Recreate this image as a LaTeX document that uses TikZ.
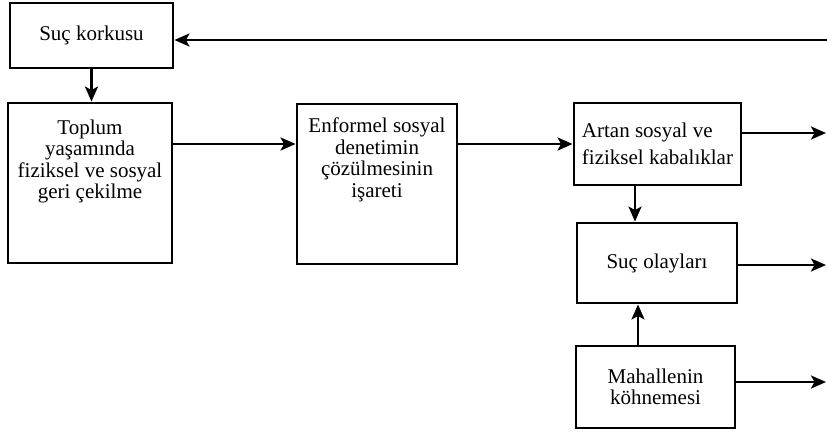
\documentclass[tikz,border=0pt]{standalone}
\usepackage{fontspec}
\setmainfont{Liberation Serif}
\usetikzlibrary{arrows.meta}
\tikzset{
    kutu/.style={draw, line width=2.9pt, inner sep=0pt, align=center, font=\fontsize{21}{21.5}\selectfont},
    yazi/.style={inner sep=0pt, align=center, font=\fontsize{21}{21.5}\selectfont},
    ok/.style={line width=2.6pt, -{Stealth[length=15pt, width=13pt, inset=3.5pt]}}
}
\begin{document}
\begin{tikzpicture}[x=1pt, y=-1pt]
        \useasboundingbox (0, 0) rectangle (827, 432);
        % kutular
        \node [kutu, minimum width=163, minimum height=65] (korku) at (91.5, 35.5) {Suç korkusu};
        \node [kutu, minimum width=164, minimum height=160] (toplum) at (90, 183) {};
        \node [yazi, below] (toplumyazi) at ([yshift=-18pt]toplum.north) {Toplum\\yaşamında\\fiziksel ve sosyal\\geri çekilme};
        \node [kutu, minimum width=160, minimum height=160] (enformel) at (377, 184) {};
        \node [yazi, below] (enformelyazi) at ([yshift=-15pt]enformel.north) {Enformel sosyal\\denetimin\\çözülmesinin\\işareti};
        \node [kutu, minimum width=167, minimum height=82, align=left, font=\fontsize{21}{27}\selectfont] (artan) at (657.5, 144) {Artan sosyal ve\\fiziksel kabalıklar};
        \node [kutu, minimum width=160, minimum height=80] (olay) at (657, 263) {Suç olayları};
        \node [kutu, minimum width=159, minimum height=82] (mahalle) at (655.5, 387) {Mahallenin\\köhnemesi};
        % sağ kenardaki uçlar
        \coordinate (ust) at (827, 40);
        \coordinate (sag1) at (826, 133);
        \coordinate (sag2) at (826, 265);
        \coordinate (sag3) at (826, 382);
        % oklar
        \draw [ok] (korku.south) -- (korku.south |- toplum.north);
        \draw [ok] (toplum.east |- artan) -- (enformel.west |- artan);
        \draw [ok] (enformel.east |- artan) -- (artan.west);
        \draw [ok] (artan.east |- sag1) -- (sag1);
        \draw [ok] ([xshift=-22.5pt]artan.south) -- ([xshift=-22.5pt]artan.south |- olay.north);
        \draw [ok] ([xshift=-17.5pt]mahalle.north) -- ([xshift=-17.5pt]mahalle.north |- olay.south);
        \draw [ok] (olay.east |- sag2) -- (sag2);
        \draw [ok] (mahalle.east |- sag3) -- (sag3);
        \draw [ok] (ust) -- (korku.east |- ust);
\end{tikzpicture}
\end{document}
